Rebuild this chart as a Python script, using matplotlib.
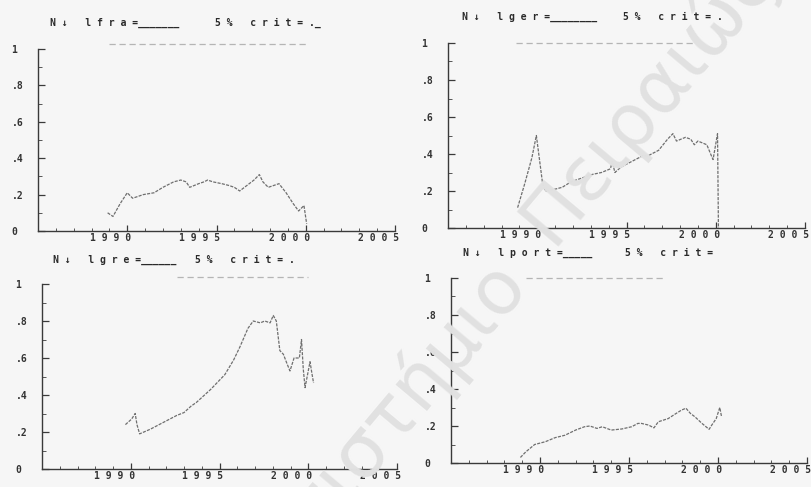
import matplotlib
matplotlib.use("Agg")
import matplotlib.pyplot as plt
import matplotlib.transforms as mtrans
import numpy as np

MONO = ['DejaVu Sans Mono', 'DejaVu Sans']

# recursive statistic, one list per country
fra_years = [1988.9, 1989.2, 1989.6, 1990.0, 1990.3, 1990.9, 1991.5, 1992.0, 1992.6, 1993.0,
             1993.3, 1993.5, 1994.0, 1994.3, 1994.5, 1994.8, 1995.3, 1995.7, 1996.0, 1996.3,
             1996.7, 1997.1, 1997.4, 1997.6, 1997.9, 1998.2, 1998.5, 1998.9, 1999.3, 1999.6,
             1999.9, 2000.05]
fra_vals = [0.10, 0.08, 0.15, 0.21, 0.18, 0.20, 0.21, 0.24, 0.27, 0.28,
            0.27, 0.24, 0.26, 0.27, 0.28, 0.27, 0.26, 0.25, 0.24, 0.22,
            0.25, 0.28, 0.31, 0.27, 0.24, 0.25, 0.26, 0.21, 0.15, 0.11,
            0.14, 0.04]

ger_years = [1988.9, 1989.3, 1989.7, 1989.95, 1990.3, 1990.45, 1991.0, 1991.4, 1991.9, 1992.5,
             1993.1, 1993.6, 1994.1, 1994.2, 1994.35, 1994.7, 1995.3, 1995.9, 1996.2, 1996.8,
             1997.3, 1997.6, 1997.8, 1998.3, 1998.6, 1998.8, 1999.0, 1999.5, 1999.8, 1999.85,
             2000.1, 2000.15]
ger_vals = [0.11, 0.24, 0.38, 0.50, 0.24, 0.20, 0.21, 0.22, 0.25, 0.27,
            0.29, 0.30, 0.32, 0.36, 0.30, 0.33, 0.36, 0.39, 0.39, 0.42,
            0.48, 0.51, 0.47, 0.49, 0.48, 0.45, 0.47, 0.45, 0.38, 0.37,
            0.51, 0.0]

gre_years = [1989.7, 1990.05, 1990.25, 1990.35, 1990.5, 1991.1, 1991.8, 1992.6, 1993.0, 1993.4,
             1993.7, 1994.5, 1994.85, 1995.3, 1995.8, 1996.15, 1996.6, 1996.9, 1997.3, 1997.55,
             1997.85, 1998.03, 1998.2, 1998.4, 1998.6, 1998.8, 1998.97, 1999.2, 1999.5, 1999.62,
             1999.72, 1999.82, 1999.92, 2000.1, 2000.2, 2000.3]
gre_vals = [0.24, 0.27, 0.30, 0.24, 0.19, 0.215, 0.25, 0.29, 0.305, 0.34,
            0.36, 0.43, 0.465, 0.51, 0.59, 0.66, 0.76, 0.80, 0.79, 0.80,
            0.79, 0.83, 0.80, 0.64, 0.62, 0.57, 0.53, 0.60, 0.60, 0.70,
            0.54, 0.44, 0.49, 0.58, 0.52, 0.465]

port_years = [1988.9, 1989.2, 1989.7, 1990.3, 1990.85, 1991.4, 1992.0, 1992.5, 1992.8, 1993.2,
              1993.5, 1994.0, 1994.6, 1995.15, 1995.5, 1995.7, 1996.1, 1996.4, 1996.65, 1997.2,
              1997.6, 1997.95, 1998.2, 1998.45, 1998.7, 1999.1, 1999.5, 1999.65, 1999.9, 2000.1,
              2000.2]
port_vals = [0.03, 0.06, 0.10, 0.115, 0.137, 0.15, 0.178, 0.196, 0.20, 0.187,
             0.196, 0.178, 0.184, 0.196, 0.214, 0.214, 0.205, 0.19, 0.223, 0.24,
             0.265, 0.286, 0.296, 0.268, 0.25, 0.214, 0.182, 0.205, 0.24, 0.30,
             0.25]

# 5% critical value lines (start, end, level)
crit_start = [1989.0, 1988.8, 1992.6, 1989.2]
crit_end = [2000.0, 1998.7, 2000.0, 1997.0]
crit_level = [1.03, 1.0, 1.04, 1.0]

names = ['lfra', 'lger', 'lgre', 'lport']
sample_len = [7, 8, 6, 5]
crit_sample = ['._', '.', '.', '']

year_ticks = [1990, 1995, 2000, 2005]
y_ticks = [0, 0.2, 0.4, 0.6, 0.8, 1.0]
y_labels = ['0', '.2', '.4', '.6', '.8', '1']

W, H = 812, 487
# axes boxes in pixels: left, top, right, bottom
boxes = [(38, 49, 395, 231), (448, 43, 805, 228), (42, 284, 397, 469), (451, 278, 807, 463)]
# title anchor points in pixels: name x, crit x, y
title_pos = [(50, 215, 23), (462, 623, 17), (53, 195, 260), (463, 625, 253)]

series = [(fra_years, fra_vals), (ger_years, ger_vals), (gre_years, gre_vals), (port_years, port_vals)]


def spaced(s):
    return ' '.join(s)


fig = plt.figure(figsize=(W / 100, H / 100), dpi=100)
fig.patch.set_facecolor('#f6f6f6')

# repository stamp across the page
wm = dict(fontsize=54, color='#e1e1e1', rotation=50, rotation_mode='anchor',
          family='DejaVu Sans', va='center', zorder=0)
fig.text(512 / W, 1 - 268 / H, 'Πανεπιστήμιο', ha='right', **wm)
fig.text(522 / W, 1 - 256 / H, ' Πειραιώς', ha='left', **wm)

for i in range(4):
    l, t, r, b = boxes[i]
    ax = fig.add_axes([l / W, 1 - b / H, (r - l) / W, (b - t) / H])
    ax.set_facecolor('none')
    ax.set_xlim(1985, 2005)
    ax.set_ylim(0, 1)

    yrs, vals = series[i]
    ax.plot(yrs, vals, color='#6f6f6f', lw=0.9, linestyle=(0, (2.5, 1)))
    ax.plot([crit_start[i], crit_end[i]], [crit_level[i], crit_level[i]], color='#b5b5b5',
            lw=0.9, linestyle=(0, (5, 3)), clip_on=False)

    for side in ['top', 'right']:
        ax.spines[side].set_visible(False)
    for side in ['left', 'bottom']:
        ax.spines[side].set_color('#3a3a3a')
        ax.spines[side].set_linewidth(1.0)

    ax.set_xticks(year_ticks)
    ax.set_xticks(np.arange(1986, 2005), minor=True)
    ax.set_xticklabels([spaced(str(y)) for y in year_ticks])
    ax.set_yticks(y_ticks)
    ax.set_yticks(np.arange(0.1, 1.0, 0.2), minor=True)
    ax.set_yticklabels(y_labels)

    ax.tick_params(axis='x', which='major', direction='in', length=4, width=0.9,
                   color='#3a3a3a', pad=1.5, labelsize=7, labelcolor='#333333')
    ax.tick_params(axis='x', which='minor', direction='in', length=2, width=0.7, color='#555555')
    ax.tick_params(axis='y', which='major', direction='in', length=5, width=0.9,
                   color='#3a3a3a', pad=19, labelsize=7, labelcolor='#333333')
    ax.tick_params(axis='y', which='minor', direction='in', length=3, width=0.7, color='#555555')

    shift = mtrans.ScaledTranslation(0.04, 0, fig.dpi_scale_trans)
    for lab in ax.get_xticklabels():
        lab.set_family(MONO)
        lab.set_weight('bold')
        lab.set_ha('right')
        lab.set_transform(lab.get_transform() + shift)
    for lab in ax.get_yticklabels():
        lab.set_family(MONO)
        lab.set_weight('bold')
        lab.set_ha('left')

    nx, cx, ty = title_pos[i]
    fig.text(nx / W, 1 - ty / H, spaced('N↓ ' + names[i] + '=') + '_' * sample_len[i],
             family=MONO, weight='bold', fontsize=7, color='#2a2a2a', va='center')
    fig.text(cx / W, 1 - ty / H, spaced('5% crit=') + ' ' + crit_sample[i],
             family=MONO, weight='bold', fontsize=7, color='#2a2a2a', va='center')

plt.savefig('out.png', dpi=100, facecolor=fig.get_facecolor())
